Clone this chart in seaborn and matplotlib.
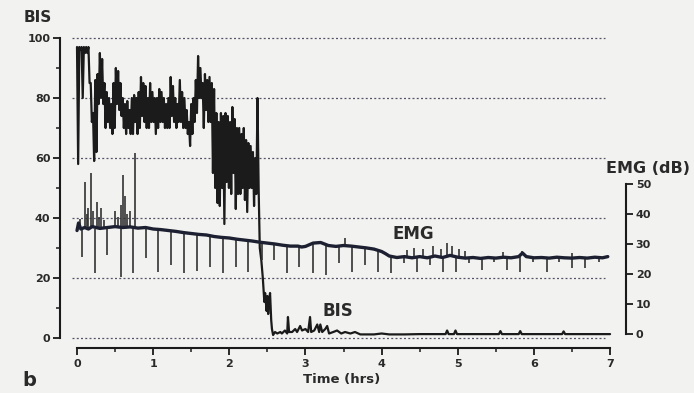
import matplotlib
matplotlib.use("Agg")
import matplotlib.pyplot as plt
from matplotlib.ticker import MultipleLocator
import seaborn as sns

# ---- BIS (index units, left axis) ----
# awake / induction period: local peaks and troughs of the raw trace
bis_swing_time = [0.00, 0.03, 0.06, 0.09, 0.12, 0.15, 0.18, 0.21, 0.24, 0.27, 0.30, 0.33, 0.36, 0.39,
                  0.42, 0.45, 0.48, 0.51, 0.54, 0.57, 0.60, 0.63, 0.66, 0.69, 0.72, 0.75, 0.78, 0.81,
                  0.84, 0.87, 0.90, 0.93, 0.96, 0.99, 1.02, 1.05, 1.08, 1.11, 1.14, 1.17, 1.20, 1.23,
                  1.26, 1.29, 1.32, 1.35, 1.38, 1.41, 1.44, 1.47, 1.50, 1.53, 1.56, 1.59, 1.62, 1.65,
                  1.68, 1.71, 1.74, 1.77, 1.80, 1.83, 1.86, 1.89, 1.92, 1.95, 1.98, 2.01, 2.04, 2.07,
                  2.10, 2.13, 2.16, 2.19, 2.22, 2.25, 2.28, 2.31, 2.34, 2.37]
bis_peak = [97, 97, 97, 97, 97, 97, 85, 75, 86, 88, 95, 93, 85, 82,
            80, 78, 85, 90, 89, 85, 80, 78, 79, 76, 80, 81, 80, 82,
            87, 85, 84, 80, 85, 82, 80, 80, 83, 82, 80, 78, 80, 87,
            84, 80, 78, 86, 82, 80, 76, 72, 78, 80, 86, 94, 90, 85,
            88, 86, 87, 85, 83, 75, 72, 75, 74, 75, 74, 72, 77, 73,
            70, 70, 68, 70, 66, 65, 64, 62, 60, 80]
bis_trough = [58, 96, 80, 95, 95, 85, 72, 59, 62, 78, 80, 78, 70, 72,
              70, 68, 70, 78, 76, 74, 70, 68, 70, 68, 68, 72, 68, 70,
              74, 72, 70, 70, 72, 72, 68, 70, 72, 72, 70, 70, 70, 74,
              72, 70, 72, 72, 70, 70, 68, 64, 68, 72, 75, 80, 80, 70,
              76, 72, 72, 55, 50, 45, 44, 50, 38, 52, 50, 48, 55, 43,
              48, 48, 50, 46, 42, 50, 50, 44, 48, 50]
# fall after the last peak and the anaesthetised period
bis_tail_time = [2.40, 2.42, 2.44, 2.46, 2.47, 2.49, 2.50, 2.51, 2.52, 2.535, 2.55, 2.56, 2.575, 2.60,
                 2.63, 2.67, 2.69, 2.73, 2.76, 2.77, 2.785, 2.825, 2.865, 2.89, 2.93, 2.955, 3.00,
                 3.035, 3.06, 3.075, 3.115, 3.155, 3.18, 3.195, 3.22, 3.26, 3.285, 3.31, 3.365,
                 3.415, 3.47, 3.52, 3.59, 3.65, 3.72, 3.9, 4.0, 4.1, 4.3, 4.5, 4.84, 4.86, 4.88,
                 4.95, 4.97, 4.99, 5.2, 5.54, 5.56, 5.58, 5.8, 5.82, 5.84, 6.1, 6.37, 6.39, 6.41,
                 6.7, 7.0]
bis_tail = [30, 26, 20, 12, 15, 9, 14, 8, 12, 15, 6, 3, 1, 2,
            1.5, 2, 1.5, 2.5, 1.5, 7, 2, 2, 3, 2, 4, 2.5, 3,
            2, 7, 2, 2.5, 4.5, 2, 4.5, 2, 3, 4, 1.5, 2,
            2.5, 1.5, 2, 1.5, 2, 1.2, 1.2, 1.5, 1.2, 1.2, 1.3, 1.3, 2.5, 1.3,
            1.3, 2.5, 1.3, 1.3, 1.3, 2.3, 1.3, 1.3, 2.3, 1.3, 1.3, 1.3, 2.2, 1.3,
            1.3, 1.3]

# ---- EMG (dB, right axis) ----
emg_time = [0.0, 0.02, 0.05, 0.1, 0.15, 0.2, 0.3, 0.4, 0.5, 0.6, 0.7, 0.8, 0.9, 1.0, 1.1, 1.2,
            1.3, 1.4, 1.5, 1.6, 1.7, 1.8, 1.9, 2.0, 2.1, 2.2, 2.3, 2.4, 2.5, 2.6, 2.7, 2.8,
            2.9, 2.95, 3.0, 3.1, 3.2, 3.3, 3.4, 3.5, 3.6, 3.7, 3.8, 3.9, 4.0, 4.05, 4.1, 4.2,
            4.3, 4.4, 4.5, 4.6, 4.7, 4.8, 4.9, 5.0, 5.1, 5.2, 5.3, 5.4, 5.5, 5.6, 5.7, 5.8,
            5.85, 5.9, 6.0, 6.1, 6.2, 6.3, 6.4, 6.5, 6.6, 6.7, 6.8, 6.9, 6.97]
emg_value = [34.5, 37.0, 35.0, 35.5, 35.0, 35.8, 35.2, 35.5, 35.8, 35.5, 35.7, 35.3, 35.5, 35.0, 34.8, 34.5,
             34.2, 33.8, 33.5, 33.2, 33.0, 32.5, 32.2, 32.0, 31.6, 31.3, 31.0, 30.6, 30.3, 30.0, 29.6, 29.3,
             29.3, 29.0, 29.2, 30.3, 30.5, 29.5, 29.2, 29.5, 29.3, 29.0, 28.7, 28.3, 27.5, 26.8, 26.0, 25.5,
             25.8, 25.4, 25.8, 25.4, 26.0, 25.5, 26.2, 25.6, 25.3, 25.5, 25.2, 25.5, 25.3, 25.6, 25.4, 25.8,
             27.0, 25.8, 25.4, 25.5, 25.3, 25.6, 25.4, 25.3, 25.5, 25.3, 25.6, 25.4, 25.8]

# periodic downward artefacts
emg_dip_time = [0.07, 0.24, 0.39, 0.58, 0.74, 0.91, 1.06, 1.24, 1.41, 1.58, 1.75, 1.92, 2.09, 2.25,
                2.43, 2.59, 2.76, 2.92, 3.10, 3.27, 3.44, 3.61, 3.78, 3.95, 4.12, 4.30, 4.47, 4.64,
                4.81, 4.98, 5.15, 5.32, 5.48, 5.65, 5.82, 5.99, 6.17, 6.33, 6.50, 6.67, 6.85]
emg_dip_low = [25.7, 20.3, 26.3, 19.0, 20.3, 25.3, 20.7, 23.0, 20.3, 21.0, 22.3, 20.3, 22.3, 20.7,
               24.7, 24.7, 20.3, 22.3, 20.3, 19.7, 23.7, 20.7, 23.0, 20.7, 20.3, 23.7, 20.7, 23.0,
               20.7, 20.7, 23.7, 21.3, 24.0, 21.3, 20.7, 24.0, 20.7, 24.0, 22.0, 22.0, 24.0]
emg_dip_top = [35.0, 35.0, 35.5, 35.5, 35.5, 35.3, 35.0, 34.6, 34.0, 33.3, 33.0, 32.2, 31.7, 31.2,
               30.5, 30.0, 29.5, 29.2, 30.3, 29.8, 29.3, 29.2, 28.8, 28.0, 25.8, 25.8, 25.6, 25.8,
               25.8, 25.6, 25.3, 25.3, 25.4, 25.5, 25.7, 25.4, 25.4, 25.5, 25.3, 25.4, 25.5]

# upward bursts
emg_burst_time = [0.04, 0.105, 0.13, 0.15, 0.18, 0.21, 0.26, 0.29, 0.32, 0.36, 0.50, 0.54, 0.58,
                  0.60, 0.63, 0.66, 0.69, 0.76, 3.52, 4.33, 4.42, 4.55, 4.68, 4.78, 4.86, 4.93,
                  5.02, 5.10, 5.60, 5.85, 6.50]
emg_burst_high = [38.5, 50.7, 40.0, 42.0, 53.7, 41.0, 44.0, 39.0, 42.0, 38.0, 41.0, 39.0, 43.0,
                  53.0, 46.0, 40.0, 41.0, 60.3, 32.0, 28.0, 28.6, 28.2, 29.2, 28.4, 30.5, 29.5,
                  28.5, 27.8, 27.5, 27.8, 27.0]
emg_burst_base = [35.0, 35.0, 35.0, 35.0, 35.5, 35.5, 35.3, 35.3, 35.4, 35.5, 35.8, 35.6, 35.5,
                  35.5, 35.6, 35.6, 35.7, 35.5, 29.3, 25.8, 25.5, 25.6, 25.8, 25.6, 26.0, 26.0,
                  25.6, 25.3, 25.6, 26.5, 25.3]

hour_ticks = [0, 1, 2, 3, 4, 5, 6, 7]
bis_ticks = [0, 20, 40, 60, 80, 100]
emg_ticks = [0, 10, 20, 30, 40, 50]
grid_levels = [0, 20, 40, 60, 80, 100]

# assemble the BIS trace: each peak is followed by its trough, then the tail
bis_time, bis_value = [], []
for i, t in enumerate(bis_swing_time):
    nxt = bis_swing_time[i + 1] if i + 1 < len(bis_swing_time) else bis_tail_time[0]
    bis_time += [t, (t + nxt) / 2]
    bis_value += [bis_peak[i], bis_trough[i]]
bis_time += bis_tail_time
bis_value += bis_tail

sns.set_style("ticks")
plt.rcParams["font.family"] = ["DejaVu Sans"]

ink = "#1b1b1b"
paper = "#f2f2f0"

fig = plt.figure(figsize=(6.94, 3.93), dpi=100)
fig.patch.set_facecolor(paper)
ax = fig.add_axes([0.0865, 0.1323, 0.8156, 0.7786])
ax.set_facecolor("none")
ax.set_xlim(-0.223, 7.21)
ax.set_ylim(-1, 101)

ax2 = ax.twinx()
ax2.set_facecolor("none")
ax2.set_ylim(-1 - 4 / 3, 101 - 4 / 3)

# dotted reference lines
ax.hlines(grid_levels, -0.06, 6.94, colors="#55556a", linestyles=(0, (1.6, 1.8)), linewidth=0.9, zorder=1)

# BIS
sns.lineplot(x=bis_time, y=bis_value, ax=ax, color=ink, linewidth=1.6,
             estimator=None, sort=False, zorder=3)

# EMG artefacts and trace
ax2.vlines(emg_dip_time, emg_dip_low, emg_dip_top, colors="#333333", linewidth=1.2, zorder=2)
ax2.vlines(emg_burst_time, emg_burst_base, emg_burst_high, colors="#333333", linewidth=1.2, zorder=2)
sns.lineplot(x=emg_time, y=emg_value, ax=ax2, color="#1c2030", linewidth=2.4,
             estimator=None, sort=False, zorder=4)

# left axis
for s in ("top", "right"):
    ax.spines[s].set_visible(False)
ax.spines["left"].set_bounds(0, 100)
ax.spines["bottom"].set_bounds(0, 7)
ax.spines["bottom"].set_position(("outward", 5))
for s in ("left", "bottom"):
    ax.spines[s].set_linewidth(1.5)
    ax.spines[s].set_color(ink)
ax.set_yticks(bis_ticks)
ax.yaxis.set_minor_locator(MultipleLocator(10))
ax.set_xticks(hour_ticks)
ax.xaxis.set_minor_locator(MultipleLocator(0.5))
ax.tick_params(axis="both", which="major", direction="out", length=5, width=1.3,
               colors=ink, labelsize=8, pad=2)
ax.tick_params(axis="both", which="minor", direction="out", length=3, width=1.1, colors=ink)
ax.tick_params(axis="x", pad=3)
for lab in ax.get_xticklabels() + ax.get_yticklabels():
    lab.set_fontweight("bold")
    lab.set_color("#2a2a2a")
ax.set_xlabel("")
ax.set_ylabel("")

# right axis
for s in ("top", "left", "bottom"):
    ax2.spines[s].set_visible(False)
ax2.spines["right"].set_bounds(0, 50)
ax2.spines["right"].set_linewidth(1.5)
ax2.spines["right"].set_color(ink)
ax2.set_yticks(emg_ticks)
ax2.tick_params(axis="y", direction="out", length=5, width=1.3, colors=ink, labelsize=8, pad=2)
for lab in ax2.get_yticklabels():
    lab.set_fontweight("bold")
    lab.set_color("#2a2a2a")
ax2.set_ylabel("")

# annotations
ax.text(4.42, 34.7, "EMG", fontsize=12, fontweight="bold", color="#2a2a2a", ha="center", va="center")
ax.text(3.43, 9.0, "BIS", fontsize=12, fontweight="bold", color="#2a2a2a", ha="center", va="center")
fig.text(38 / 694, 1 - 17 / 393, "BIS", fontsize=11, fontweight="bold", color="#2a2a2a", ha="center", va="center")
fig.text(648 / 694, 1 - 168 / 393, "EMG (dB)", fontsize=11.5, fontweight="bold", color="#2a2a2a",
         ha="center", va="center")
fig.text(342 / 694, 1 - 380 / 393, "Time (hrs)", fontsize=9.5, fontweight="bold", color="#2a2a2a",
         ha="center", va="center")
fig.text(29 / 694, 1 - 381 / 393, "b", fontsize=14, fontweight="bold", color="#2a2a2a", ha="center", va="center")

fig.savefig("out.png", dpi=100, facecolor=fig.get_facecolor())
